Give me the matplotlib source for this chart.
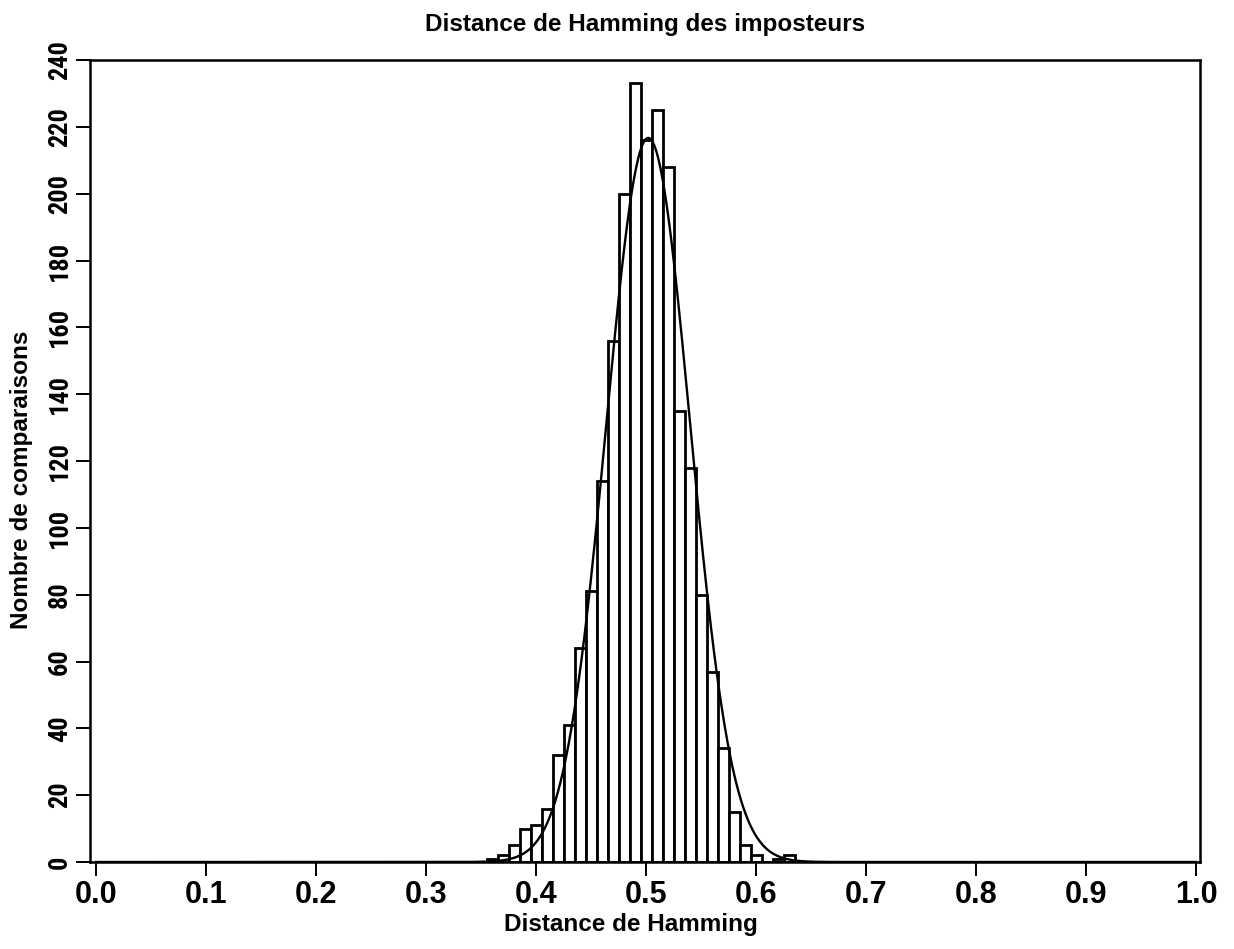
import numpy as np
import matplotlib
matplotlib.use('Agg')
import matplotlib.pyplot as plt
from matplotlib import font_manager

# histogramme des distances de Hamming (imposteurs), pas de 0.01
bin_centers = [0.36, 0.37, 0.38, 0.39, 0.40, 0.41, 0.42, 0.43, 0.44, 0.45,
               0.46, 0.47, 0.48, 0.49, 0.50, 0.51, 0.52, 0.53, 0.54, 0.55,
               0.56, 0.57, 0.58, 0.59, 0.60, 0.61, 0.62, 0.63]
counts = [1, 2, 5, 10, 11, 16, 32, 41, 64, 81,
          114, 156, 200, 233, 216, 225, 208, 135, 118, 80,
          57, 34, 15, 5, 2, 0, 1, 2]
bin_width = 0.01

# loi normale ajustee
fit_mean = 0.502
fit_sd = 0.038

x_ticks = [0.0, 0.1, 0.2, 0.3, 0.4, 0.5, 0.6, 0.7, 0.8, 0.9, 1.0]
y_ticks = [0, 20, 40, 60, 80, 100, 120, 140, 160, 180, 200, 220, 240]

names = set(f.name for f in font_manager.fontManager.ttflist)
base_font = 'Liberation Sans' if 'Liberation Sans' in names else 'DejaVu Sans'
narrow_font = base_font
for cand in ['Liberation Sans Narrow', 'DejaVu Sans Condensed', 'Roboto Condensed']:
    if cand in names:
        narrow_font = cand
        break
plt.rcParams['font.family'] = [base_font, 'DejaVu Sans']

fig = plt.figure(figsize=(12.34, 9.49), dpi=100)
ax = fig.add_axes([90 / 1234, 1 - 862 / 949, 1110 / 1234, 802 / 949])

ax.bar(bin_centers, counts, width=bin_width, color='white',
       edgecolor='black', linewidth=2.0, zorder=2)

xs = np.linspace(0.0, 1.0, 1001)
n = sum(counts)
ys = n * bin_width / (fit_sd * np.sqrt(2 * np.pi)) * np.exp(-0.5 * ((xs - fit_mean) / fit_sd) ** 2)
ax.plot(xs, ys, color='black', linewidth=1.7, zorder=3)

ax.set_xlim(-0.0055, 1.0036)
ax.set_ylim(0, 240)
ax.set_xticks(x_ticks)
ax.set_xticklabels(['%.1f' % v for v in x_ticks], fontsize=22, fontweight='bold')
ax.set_yticks(y_ticks)
ax.set_yticklabels([str(v) for v in y_ticks], fontsize=19, fontweight='bold',
                   rotation=90, va='center', family=[narrow_font, 'DejaVu Sans'])
ax.tick_params(axis='both', direction='out', length=10, width=1.4, pad=3)

for s in ax.spines.values():
    s.set_linewidth(1.8)

ax.set_title('Distance de Hamming des imposteurs', fontsize=17.5, fontweight='bold', pad=21)
ax.set_xlabel('Distance de Hamming', fontsize=17.5, fontweight='bold')
ax.xaxis.set_label_coords(0.487, -0.064)
ax.set_ylabel('Nombre de comparaisons', fontsize=17.5, fontweight='bold')
ax.yaxis.set_label_coords(-0.0514, 0.476)

fig.savefig('out.png', dpi=100)
